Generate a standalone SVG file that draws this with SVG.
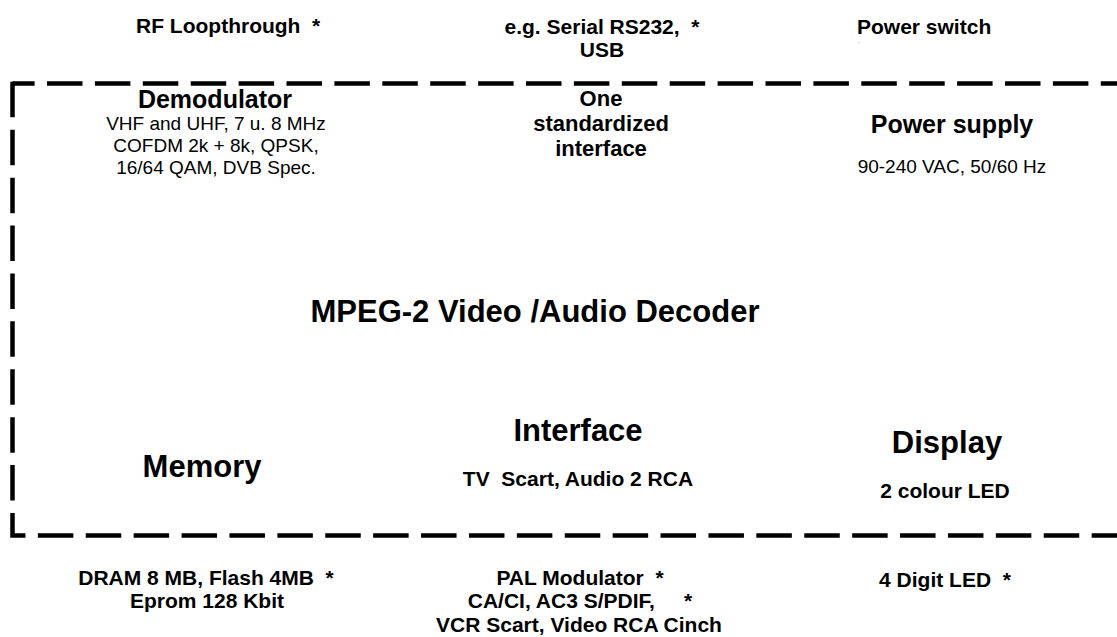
<svg xmlns="http://www.w3.org/2000/svg" width="1117" height="637" viewBox="0 0 1117 637">
<style>
text{font-family:"Liberation Sans",Arial,sans-serif;fill:#000}
.lb{font-size:21px;font-weight:bold}
.bd{font-size:19px}
.h2{font-size:25px;font-weight:bold}
.h3{font-size:22px;font-weight:bold}
.h1{font-size:31px;font-weight:bold}
.m{text-anchor:middle}
.dash{fill:none;stroke:#000;stroke-width:4.5;stroke-dasharray:35.5 12.4}
</style>
<rect width="1117" height="637" fill="#fff"/>
<g id="connectors">
<path class="dash" d="M12.5,83.5 H1130" stroke-dashoffset="13.4"/>
<path class="dash" d="M12.5,81.25 V535.5 H1130" stroke-dashoffset="-0.6"/>
</g>
<g id="rf-loopthrough"><text class="lb" x="136" y="33" xml:space="preserve">RF Loopthrough  *</text></g>
<g id="serial"><text class="lb m" x="602" y="34" xml:space="preserve">e.g. Serial RS232,  *</text><text class="lb m" x="602" y="57">USB</text></g>
<g id="power-switch"><text class="lb" x="857" y="34">Power switch</text><text x="858" y="43" font-size="6">.</text></g>
<g id="demodulator"><text class="h2 m" x="215" y="108">Demodulator</text>
<text class="bd m" x="216" y="130">VHF and UHF, 7 u. 8 MHz</text>
<text class="bd m" x="216" y="152">COFDM 2k + 8k, QPSK,</text>
<text class="bd m" x="216" y="174">16/64 QAM, DVB Spec.</text></g>
<g id="interface-std"><text class="h3 m" x="601" y="106">One</text><text class="h3 m" x="601" y="131">standardized</text><text class="h3 m" x="601" y="156">interface</text></g>
<g id="power-supply"><text class="h2 m" x="952" y="133">Power supply</text><text class="bd m" x="952" y="173">90-240 VAC, 50/60 Hz</text></g>
<g id="mpeg"><text class="h1 m" x="535" y="322">MPEG-2 Video /Audio Decoder</text></g>
<g id="memory"><text class="h1 m" x="202" y="477">Memory</text></g>
<g id="interface"><text class="h1 m" x="578" y="441">Interface</text><text class="lb m" x="578" y="486" xml:space="preserve">TV  Scart, Audio 2 RCA</text></g>
<g id="display"><text class="h1 m" x="947" y="453">Display</text><text class="lb m" x="945" y="498">2 colour LED</text></g>
<g id="memory-ext"><text class="lb m" x="206" y="585" xml:space="preserve">DRAM 8 MB, Flash 4MB  *</text><text class="lb m" x="207" y="608">Eprom 128 Kbit</text></g>
<g id="interface-ext"><text class="lb m" x="580" y="585" xml:space="preserve">PAL Modulator  *</text><text class="lb m" x="580" y="608" xml:space="preserve">CA/CI, AC3 S/PDIF,     *</text><text class="lb m" x="579" y="632">VCR Scart, Video RCA Cinch</text></g>
<g id="display-ext"><text class="lb m" x="945" y="587" xml:space="preserve">4 Digit LED  *</text></g>
</svg>
